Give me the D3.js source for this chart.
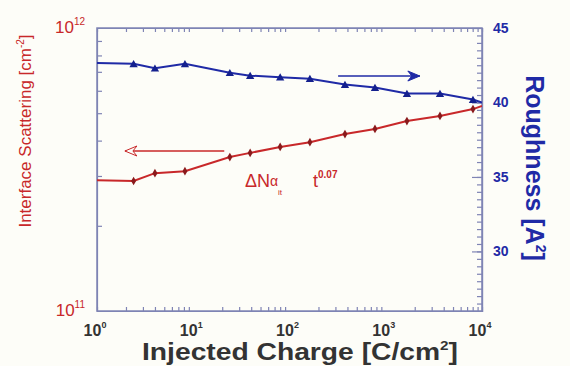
<!DOCTYPE html>
<html>
<head>
<meta charset="utf-8">
<script src="https://cdn.jsdelivr.net/npm/d3@7"></script>
<style>
  body { margin: 0; background: #fdfdf8; }
  svg { display: block; font-family: "Liberation Sans", Arial, sans-serif; }
</style>
</head>
<body>
<div id="chart"></div>
<script>
// injected charge [C/cm2]
const charge = [1, 2.4, 4.0, 8.2, 24, 39, 80, 163, 377, 773, 1660, 3660, 8060, 10000];
// interface scattering [cm-2]
const scattering = [2.9e11, 2.88e11, 3.07e11, 3.12e11, 3.5e11, 3.62e11, 3.8e11, 3.95e11, 4.22e11, 4.4e11, 4.69e11, 4.89e11, 5.17e11, 5.3e11];
// roughness [A2]
const roughness = [42.65, 42.6, 42.3, 42.6, 42.0, 41.8, 41.7, 41.6, 41.2, 41.0, 40.6, 40.6, 40.2, 40.0];
const xTicks = [1, 10, 100, 1000, 10000];
const xTickExp = ['0', '1', '2', '3', '4'];
const rightTicks = [30, 35, 40, 45];

const red = '#c8282a', blue = '#1f2aa6', frame = '#7f84b4';
const W = 570, H = 366;
const m = {left: 97, top: 28, right: 88, bottom: 55};
const w = W - m.left - m.right, h = H - m.top - m.bottom;

const svg = d3.select('#chart').append('svg').attr('width', W).attr('height', H);
svg.append('rect').attr('width', W).attr('height', H).attr('fill', '#fdfdf8');

const x = d3.scaleLog().domain([1, 10000]).range([0, w]);
const yL = d3.scaleLog().domain([1e11, 1e12]).range([h, 0]);
const yR = d3.scaleLinear().domain([26, 45]).range([h, 0]);

const g = svg.append('g').attr('transform', `translate(${m.left},${m.top})`);
g.append('clipPath').attr('id', 'clip').append('rect').attr('width', w).attr('height', h);

// minor ticks
const minorX = [];
for (let e = 0; e < 4; e++) for (let k = 2; k <= 9; k++) minorX.push(k * Math.pow(10, e));
const minorL = [];
for (let k = 2; k <= 9; k++) minorL.push(k * 1e11);
const minorR = d3.range(26.5, 45, 0.5);

const axB = g.append('g').attr('transform', `translate(0,${h})`)
  .call(d3.axisBottom(x).tickValues(minorX).tickSize(-4).tickFormat(''));
const axT = g.append('g')
  .call(d3.axisTop(x).tickValues(minorX).tickSize(-4).tickFormat(''));
const axL = g.append('g')
  .call(d3.axisLeft(yL).tickValues(minorL).tickSize(-5).tickFormat(''));
const axR = g.append('g').attr('transform', `translate(${w},0)`)
  .call(d3.axisRight(yR).tickValues(minorR).tickSize(-5).tickFormat(''));
const axR2 = g.append('g').attr('transform', `translate(${w},0)`)
  .call(d3.axisRight(yR).tickValues(rightTicks).tickSize(-10).tickFormat(''));
[axB, axT, axL, axR, axR2].forEach(a => {
  a.selectAll('path,line').attr('stroke', frame).attr('stroke-width', 1.2);
});
g.append('rect').attr('width', w).attr('height', h)
  .attr('fill', 'none').attr('stroke', frame).attr('stroke-width', 1.5);

// x tick labels
const xl = g.append('g').selectAll('text').data(xTicks).join('text')
  .attr('x', d => x(d) - 2).attr('y', h + 25)
  .attr('text-anchor', 'middle').attr('fill', '#333')
  .attr('font-size', 16).attr('font-weight', 'bold');
xl.append('tspan').text('10');
xl.append('tspan').attr('dy', -8).attr('font-size', 9).text((d, i) => xTickExp[i]);

// left tick labels
[[1e12, '12'], [1e11, '11']].forEach(([v, e]) => {
  const t = g.append('text').attr('x', -12).attr('y', yL(v) + 5)
    .attr('text-anchor', 'end').attr('fill', red).attr('font-size', 17);
  t.append('tspan').text('10');
  t.append('tspan').attr('dy', -8).attr('font-size', 10).text(e);
});

// right tick labels
g.append('g').selectAll('text').data(rightTicks).join('text')
  .attr('x', w + 11).attr('y', d => yR(d) + 5)
  .attr('fill', blue).attr('font-size', 14).attr('font-weight', 'bold')
  .text(d => d);

// lines
const plot = g.append('g').attr('clip-path', 'url(#clip)');
const lineL = d3.line().x((d, i) => x(charge[i])).y(d => yL(d));
const lineR = d3.line().x((d, i) => x(charge[i])).y(d => yR(d));
plot.append('path').datum(scattering).attr('d', lineL)
  .attr('fill', 'none').attr('stroke', red).attr('stroke-width', 2);
plot.append('path').datum(roughness).attr('d', lineR)
  .attr('fill', 'none').attr('stroke', blue).attr('stroke-width', 2);
plot.selectAll('.mr').data(scattering.slice(1, -1)).join('path')
  .attr('transform', (d, i) => `translate(${x(charge[i + 1])},${yL(d)})`)
  .attr('d', d3.symbol(d3.symbolDiamond, 22)).attr('fill', '#8a1a1c');
plot.selectAll('.mb').data(roughness.slice(1, -1)).join('path')
  .attr('transform', (d, i) => `translate(${x(charge[i + 1])},${yR(d) + 1})`)
  .attr('d', d3.symbol(d3.symbolTriangle, 30)).attr('fill', '#14208e');

// arrows
function arrow(x1, x2, y, col, fill) {
  g.append('line').attr('x1', x1).attr('x2', x2).attr('y1', y).attr('y2', y)
    .attr('stroke', col).attr('stroke-width', 1.5);
  const s = x2 > x1 ? 1 : -1;
  g.append('path')
    .attr('d', `M${x2},${y} L${x2 - s * 12},${y - 5} L${x2 - s * 8},${y} L${x2 - s * 12},${y + 5} Z`)
    .attr('fill', fill).attr('stroke', col).attr('stroke-width', 1);
}
arrow(x(21), x(1.95), 123, red, '#fdfdf8');
arrow(x(320), x(2260), 48, blue, blue);

// annotation
const ann = g.append('text').attr('x', 148).attr('y', 159)
  .attr('fill', red).attr('font-size', 18);
ann.append('tspan').text('ΔN');
ann.append('tspan').attr('font-size', 14).attr('dy', -1).text('α');
ann.append('tspan').attr('font-size', 8).attr('x', 181).attr('dy', 9).text('it');
ann.append('tspan').attr('x', 216).attr('dy', -8).text('t');
ann.append('tspan').attr('font-size', 10).attr('dy', -9).attr('font-weight', 'bold').text('0.07');

// axis titles
const xt = svg.append('text').attr('x', 300).attr('y', 360)
  .attr('text-anchor', 'middle').attr('fill', '#333')
  .attr('font-size', 24).attr('font-weight', 'bold')
  .attr('textLength', 316).attr('lengthAdjust', 'spacingAndGlyphs');
xt.append('tspan').text('Injected Charge [C/cm');
xt.append('tspan').attr('dy', -10).attr('font-size', 13).text('2');
xt.append('tspan').attr('dy', 10).text(']');

const lt = svg.append('text').attr('transform', 'translate(31,131) rotate(-90)')
  .attr('text-anchor', 'middle').attr('fill', red).attr('font-size', 17);
lt.append('tspan').text('Interface Scattering [cm');
lt.append('tspan').attr('dy', -7).attr('font-size', 10).text('-2');
lt.append('tspan').attr('dy', 7).text(']');

const rt = svg.append('text').attr('transform', 'translate(526,168) rotate(90)')
  .attr('text-anchor', 'middle').attr('fill', blue)
  .attr('font-size', 25).attr('font-weight', 'bold');
rt.append('tspan').text('Roughness [A');
rt.append('tspan').attr('dy', -10).attr('font-size', 14).text('2');
rt.append('tspan').attr('dy', 10).text(']');
</script>
</body>
</html>
